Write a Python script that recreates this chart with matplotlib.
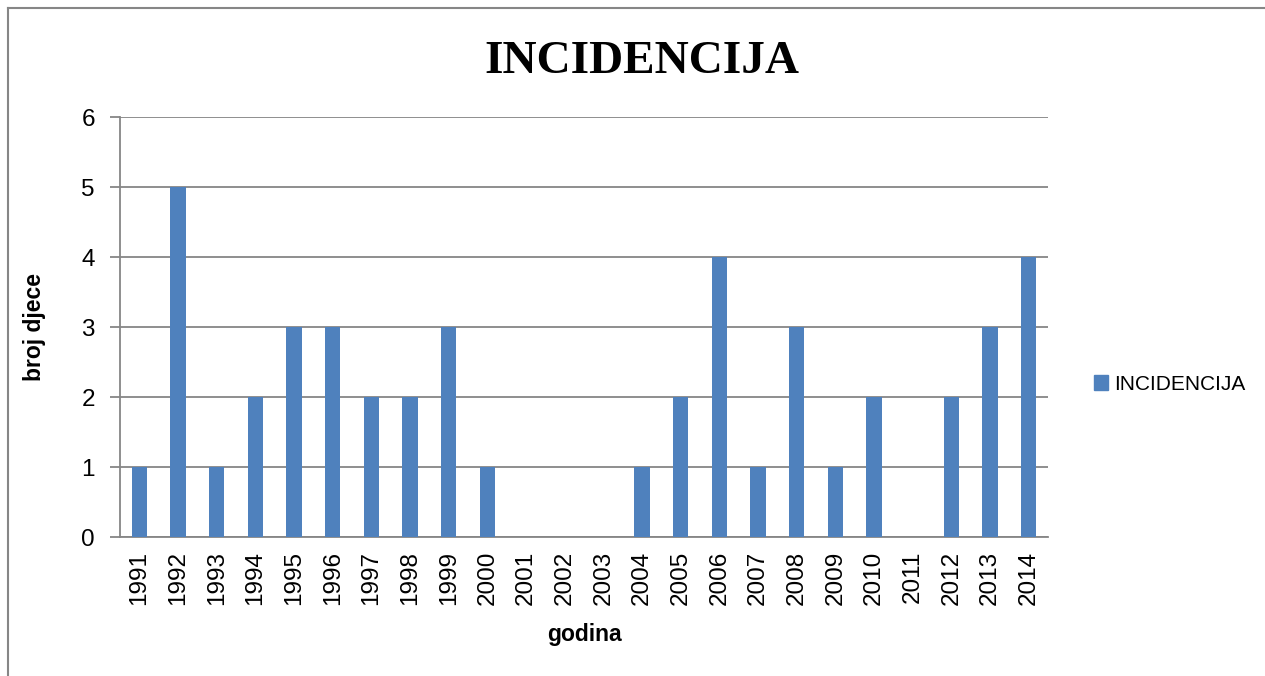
import matplotlib
matplotlib.use("Agg")
import matplotlib.pyplot as plt
from matplotlib.patches import Patch
from matplotlib.lines import Line2D

# data
years = [str(y) for y in range(1991, 2015)]
counts = [1, 5, 1, 2, 3, 3, 2, 2, 3, 1, 0, 0, 0, 1, 2, 4, 1, 3, 1, 2, 0, 2, 3, 4]
y_ticks = [0, 1, 2, 3, 4, 5, 6]

BAR = "#4F81BD"
GRID = "#868686"

fig = plt.figure(figsize=(12.65, 6.76), dpi=100)
ax = fig.add_axes([120 / 1265, 1 - 537 / 676, 928 / 1265, 420 / 676])

x = range(len(years))
ax.bar(x, counts, width=0.4, color=BAR, zorder=3, label="INCIDENCIJA")
ax.set_xlim(-0.5, len(years) - 0.5)
ax.set_ylim(0, 6)
ax.set_yticks(y_ticks)
ax.set_xticks(list(x))
ax.set_xticklabels(years, rotation=90)

ax.grid(axis="y", color=GRID, lw=1.3, zorder=0)
for s in ["top", "right"]:
    ax.spines[s].set_visible(False)
ax.spines["left"].set_color(GRID)
ax.spines["bottom"].set_color(GRID)
ax.spines["left"].set_linewidth(1.3)
ax.spines["bottom"].set_linewidth(1.3)
ax.tick_params(axis="y", length=7, color=GRID, width=1.3, labelsize=17.5, pad=11)
ax.tick_params(axis="x", length=0, labelsize=17.5, pad=10)
for lab in ax.get_xticklabels() + ax.get_yticklabels():
    lab.set_family("Liberation Sans")

ax.set_ylabel("broj djece", fontsize=16.5, fontweight="bold", family="Liberation Sans")
ax.set_xlabel("godina", fontsize=16.5, fontweight="bold", family="Liberation Sans")
ax.yaxis.set_label_coords(-0.08, 0.5)
ax.xaxis.set_label_coords(0.5, -0.205)

fig.text(642 / 1265, 1 - 62 / 676, "INCIDENCIJA", ha="center", va="center",
         fontsize=34, fontweight="bold", family="Liberation Serif")

fig.legend(handles=[Patch(facecolor=BAR, edgecolor=BAR)], labels=["INCIDENCIJA"],
           loc="center left", bbox_to_anchor=(1075 / 1265, 1 - 384 / 676),
           frameon=False, prop={"family": "Liberation Sans", "size": 15},
           handlelength=0.7, handleheight=0.7, handletextpad=0.3)

# chart border (left and top visible)
fig.add_artist(Line2D([8 / 1265, 8 / 1265], [0, 1 - 8 / 676], transform=fig.transFigure,
                      color=GRID, lw=1.5))
fig.add_artist(Line2D([8 / 1265, 1], [1 - 8 / 676, 1 - 8 / 676], transform=fig.transFigure,
                      color=GRID, lw=1.5))

fig.savefig("out.png", dpi=100)
